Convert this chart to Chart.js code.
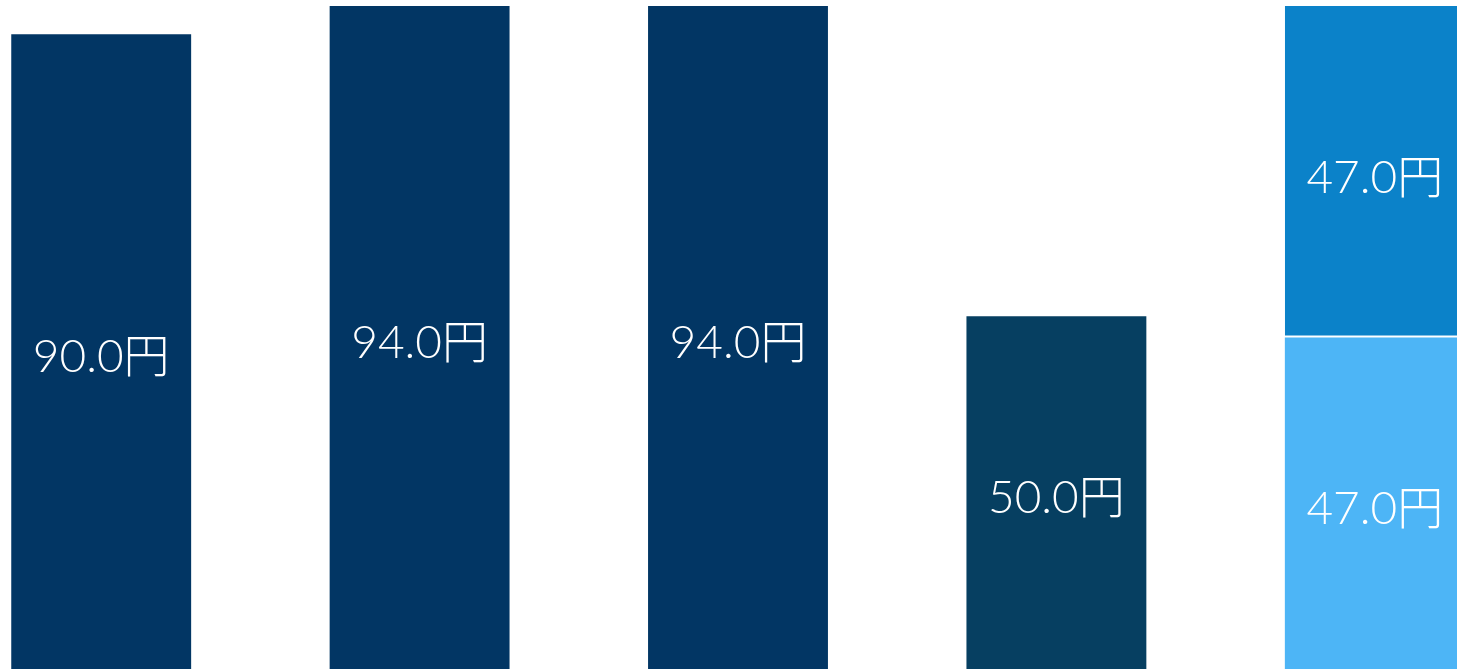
<!DOCTYPE html>
<html lang="ja">

<head>
    <meta charset="UTF-8">
    <title>配当金の推移</title>
    <style>
        html, body {
            margin: 0;
            padding: 0;
            background: #ffffff;
            overflow: hidden;
        }

        .chart-wrap {
            position: absolute;
            left: -58px;
            top: 0;
            width: 1592px;
            height: 669px;
        }
    </style>
</head>

<body>
    <div class="chart-wrap">
        <canvas id="dividendChart" width="1592" height="669"></canvas>
    </div>

    <script src="https://cdn.jsdelivr.net/npm/chart.js"></script>
    <script>
        // Chart data
        const categories = ["A", "B", "C", "D", "E"];
        const baseValues = [90, 94, 94, 50, 47];
        const topValues = [null, null, null, null, 47];
        const baseColors = ["#023664", "#023664", "#023664", "#063f61", "#4db5f6"];
        const topColor = "#0b82c9";
        const yMax = 94;

        // Draws "xx.x円" in the middle of every bar segment
        const centerLabels = {
            id: "centerLabels",
            afterDatasetsDraw(chart) {
                const ctx = chart.ctx;
                ctx.save();
                ctx.fillStyle = "#ffffff";
                ctx.font = "300 46px Lato, 'Noto Sans CJK JP', sans-serif";
                ctx.textAlign = "center";
                ctx.textBaseline = "middle";
                chart.data.datasets.forEach((ds, i) => {
                    chart.getDatasetMeta(i).data.forEach((bar, j) => {
                        const v = ds.data[j];
                        if (v == null) return;
                        const { x, y, base } = bar.getProps(["x", "y", "base"], true);
                        ctx.fillText(v.toFixed(1) + "円", x, (y + base) / 2 + 6);
                    });
                });
                ctx.restore();
            }
        };

        new Chart(document.getElementById("dividendChart"), {
            type: "bar",
            data: {
                labels: categories,
                datasets: [
                    {
                        data: baseValues,
                        backgroundColor: baseColors,
                        borderWidth: 0
                    },
                    {
                        data: topValues,
                        backgroundColor: topColor,
                        borderColor: "#ffffff",
                        borderSkipped: false,
                        borderWidth: { top: 0, left: 0, right: 0, bottom: 2 }
                    }
                ]
            },
            options: {
                responsive: false,
                animation: false,
                layout: {
                    padding: { top: 6, bottom: 0, left: 0, right: 0 }
                },
                datasets: {
                    bar: {
                        categoryPercentage: 1,
                        barPercentage: 0.565
                    }
                },
                plugins: {
                    legend: { display: false },
                    tooltip: { enabled: false }
                },
                scales: {
                    x: {
                        stacked: true,
                        display: false
                    },
                    y: {
                        stacked: true,
                        display: false,
                        min: 0,
                        max: yMax
                    }
                }
            },
            plugins: [centerLabels]
        });
    </script>
</body>

</html>
